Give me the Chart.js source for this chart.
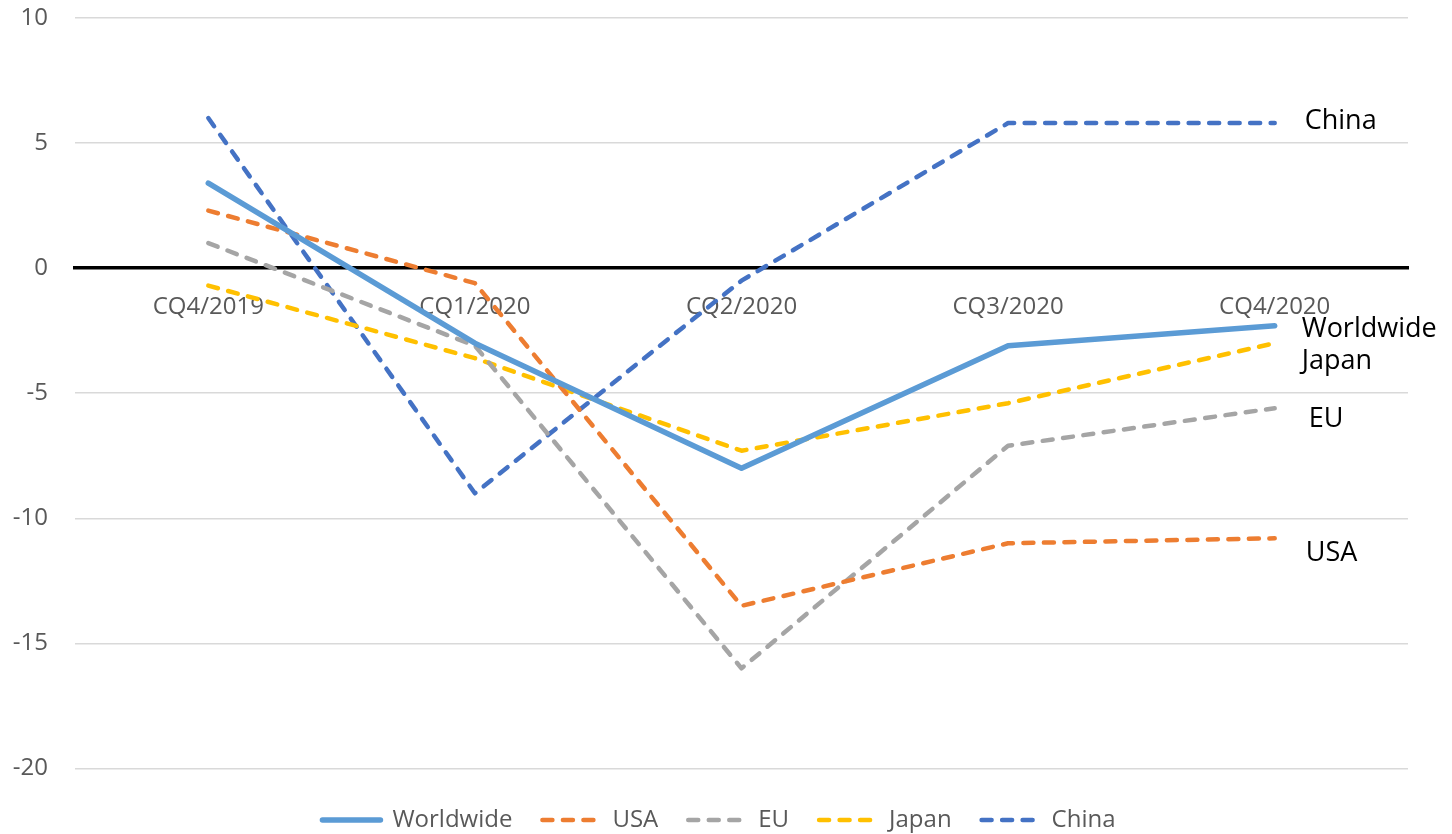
<!DOCTYPE html>
<html>
<head>
<meta charset="utf-8">
<script src="https://cdn.jsdelivr.net/npm/chart.js@4/dist/chart.umd.min.js"></script>
<style>
  html, body { margin: 0; padding: 0; background: #fff; }
  #wrap { width: 1452px; height: 834px; }
</style>
</head>
<body>
<div id="wrap"><canvas id="chart" width="1452" height="834"></canvas></div>
<script>
// quarters on the x axis
var quarters = ['CQ4/2019', 'CQ1/2020', 'CQ2/2020', 'CQ3/2020', 'CQ4/2020'];

// growth values per region
var worldwide = [3.4, -3.0, -8.0, -3.1, -2.3];
var usa       = [2.3, -0.6, -13.5, -11.0, -10.8];
var eu        = [1.0, -3.1, -16.0, -7.1, -5.6];
var japan     = [-0.7, -3.6, -7.3, -5.4, -3.0];
var china     = [6.0, -9.0, -0.5, 5.8, 5.8];

var seriesNames = ['Worldwide', 'USA', 'EU', 'Japan', 'China'];
var yTicks = [-20, -15, -10, -5, 0, 5, 10];

var font = "'Open Sans', 'Noto Sans', sans-serif";
var colors = ['#5B9BD5', '#ED7D31', '#A5A5A5', '#FFC000', '#4472C4'];
// nudge of each end label from its last point [dx, dy]
var endLabelShift = [[27, 4], [31, 15], [34, 11], [27, 18], [30, -2]];

function makeSet(i, values) {
    var solid = i === 0;
    return {
        label: seriesNames[i],
        data: values,
        borderColor: colors[i],
        backgroundColor: colors[i],
        borderWidth: solid ? 5.5 : 4.5,
        borderDash: solid ? [] : [10, 10.5],
        borderCapStyle: 'round',
        borderJoinStyle: 'round',
        pointRadius: 0,
        pointHoverRadius: 0,
        tension: 0,
        fill: false
    };
}

// no extra room for overhanging tick labels, the layout is set by padding
function noPad(s) {
    s.paddingTop = 0;
    s.paddingBottom = 0;
    s.paddingLeft = 0;
    s.paddingRight = 0;
}

var endLabels = {
    id: 'endLabels',
    afterDatasetsDraw: function (chart) {
        var ctx = chart.ctx;
        ctx.save();
        ctx.font = '27px ' + font;
        ctx.fillStyle = '#000';
        ctx.textAlign = 'left';
        ctx.textBaseline = 'middle';
        chart.data.datasets.forEach(function (ds, i) {
            var pts = chart.getDatasetMeta(i).data;
            var p = pts[pts.length - 1];
            ctx.fillText(ds.label, p.x + endLabelShift[i][0], p.y + endLabelShift[i][1]);
        });
        ctx.restore();
    }
};

new Chart(document.getElementById('chart'), {
    type: 'line',
    data: {
        labels: quarters,
        datasets: [
            makeSet(0, worldwide),
            makeSet(1, usa),
            makeSet(2, eu),
            makeSet(3, japan),
            makeSet(4, china)
        ]
    },
    options: {
        responsive: false,
        animation: false,
        events: [],
        layout: { padding: { left: 0, right: 14, top: 18, bottom: -8 } },
        plugins: {
            tooltip: { enabled: false },
            legend: {
                position: 'bottom',
                title: { display: true, text: ' ', font: { size: 8 }, padding: 0 },
                labels: {
                    usePointStyle: true,
                    pointStyle: 'line',
                    pointStyleWidth: 58,
                    padding: 30,
                    color: '#595959',
                    font: { family: font, size: 24 },
                    generateLabels: function (chart) {
                        var items = Chart.defaults.plugins.legend.labels.generateLabels(chart);
                        items.forEach(function (it) {
                            var ds = chart.data.datasets[it.datasetIndex];
                            it.lineDash = ds.borderDash;
                            it.lineWidth = ds.borderWidth;
                            it.lineCap = 'round';
                            it.strokeStyle = ds.borderColor;
                            it.pointStyle = 'line';
                        });
                        return items;
                    }
                }
            }
        },
        scales: {
            x: {
                position: { y: 0 },
                offset: true,
                afterFit: noPad,
                grid: { display: false, drawTicks: false },
                border: { display: true, color: '#000', width: 3.5 },
                ticks: {
                    autoSkip: false,
                    maxRotation: 0,
                    padding: 25,
                    color: '#595959',
                    font: { family: font, size: 24 }
                }
            },
            y: {
                min: -20,
                max: 10,
                afterFit: function (s) { s.width = 75; noPad(s); },
                afterBuildTicks: function (s) {
                    s.ticks = yTicks.map(function (v) { return { value: v }; });
                },
                grid: { color: '#D9D9D9', lineWidth: 1.5, drawTicks: false },
                border: { display: false },
                ticks: {
                    padding: 27,
                    color: '#595959',
                    font: { family: font, size: 24 }
                }
            },
            yRight: {
                position: 'right',
                display: true,
                afterFit: function (s) { s.width = 30; noPad(s); },
                grid: { display: false, drawTicks: false },
                border: { display: false },
                ticks: { display: false }
            }
        }
    },
    plugins: [endLabels]
});
</script>
</body>
</html>
